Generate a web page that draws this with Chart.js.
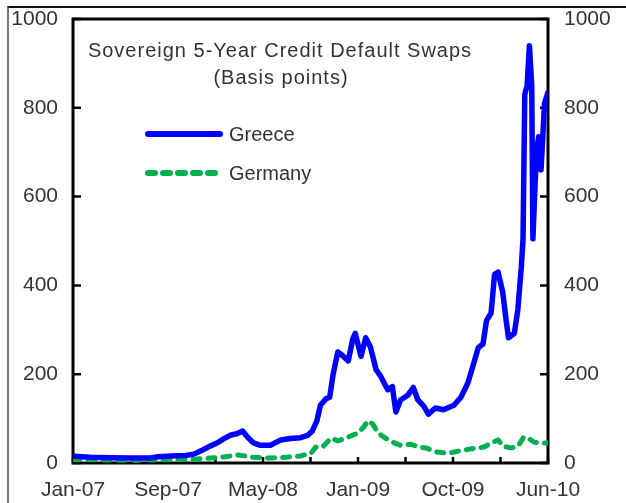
<!DOCTYPE html>
<html>
<head>
<meta charset="utf-8">
<script src="https://cdn.jsdelivr.net/npm/chart.js@4/dist/chart.umd.min.js"></script>
<style>
    body { margin: 0; background: #fff; }
    #frame { position: absolute; left: 7px; top: 6px; width: 619px; height: 497px; border-left: 2px solid #777; border-top: 2px solid #111; }
    #wrap { position: absolute; left: 0; top: 0; width: 626px; height: 503px; }
</style>
</head>
<body>
<div id="frame"></div>
<div id="wrap"><canvas id="cds-chart" width="626" height="503"></canvas></div>
<script>
// months since Jan-07
const greeceMonths = [0, 1.5, 3.2, 4.9, 6.6, 7.3, 8.4, 9.7, 10.4, 11.2, 11.8, 12.4, 13.0, 13.6, 14.1, 14.6, 15.0, 15.5, 16.1, 17.0,
    17.9, 18.7, 19.6, 20.2, 20.6, 21.0, 21.3, 21.8, 22.1, 22.4, 22.8, 23.2, 23.7, 24.1, 24.3, 24.8, 25.2, 25.6, 26.1, 26.5,
    27.1, 27.5, 27.8, 28.2, 28.8, 29.3, 29.7, 30.2, 30.6, 31.2, 31.9, 32.8, 33.4, 34.0, 34.4, 34.9, 35.3, 35.6, 36.0, 36.3,
    36.6, 37.0, 37.3, 37.5, 38.0, 38.3, 38.6, 38.75, 38.9, 39.1, 39.3, 39.5, 39.6, 39.9, 40.1, 40.3, 40.6, 40.9];
const greeceBp = [15, 13, 12, 11, 11, 14, 16, 17, 20, 30, 38, 45, 55, 63, 66, 72, 59, 46, 40, 40,
    52, 55, 57, 62, 72, 95, 130, 145, 148, 200, 250, 242, 230, 280, 292, 240, 282, 262, 210, 195,
    165, 172, 115, 142, 152, 170, 142, 128, 110, 124, 120, 130, 148, 180, 215, 260, 268, 320, 338, 425,
    430, 385, 320, 282, 292, 345, 440, 505, 830, 850, 940, 850, 505, 700, 735, 660, 810, 835];

const germanyMonths = [0, 2.3, 4.9, 7.5, 10.1, 11.8, 13.1, 14.2, 14.8, 15.5, 16.3, 17.0, 18.3, 19.6, 20.5, 20.9, 21.5, 22.2, 22.8, 23.5,
    24.1, 24.5, 25.0, 25.4, 25.8, 26.3, 26.9, 27.5, 28.2, 29.1, 29.8, 30.4, 31.2, 32.3, 33.4, 34.5, 35.4, 36.0, 36.6, 37.0,
    37.7, 38.3, 38.8, 39.2, 39.7, 40.3, 40.9];
const germanyBp = [8, 7, 6, 7, 8, 11, 14, 18, 16, 13, 12, 11, 13, 16, 22, 36, 36, 56, 50, 56,
    63, 67, 80, 95, 88, 67, 56, 47, 40, 42, 36, 34, 25, 22, 28, 33, 36, 45, 52, 38,
    34, 37, 58, 56, 47, 45, 45];

const xTickLabels = ['Jan-07', '', 'Sep-07', '', 'May-08', '', 'Jan-09', '', 'Oct-09', '', 'Jun-10'];
const xEnd = 40.9;
const yMax = 1000;
const yStep = 200;
const titleLines = ['Sovereign 5-Year Credit Default Swaps', '(Basis points)'];

const textFont = '20px "Liberation Sans", Arial, sans-serif';
const tickFont = { family: '"Liberation Sans", Arial, sans-serif', size: 21 };
const textColor = '#333';

// plot frame, inward tick marks, title and legend
const framePlugin = {
    id: 'frame',
    beforeDatasetsDraw(chart) {
        const { ctx, chartArea: a, scales } = chart;
        ctx.save();
        ctx.strokeStyle = '#000';
        ctx.lineWidth = 3;
        ctx.strokeRect(a.left, a.top, a.right - a.left, a.bottom - a.top);
        ctx.lineWidth = 2.5;
        ctx.beginPath();
        scales.x.ticks.forEach(t => {
            const px = scales.x.getPixelForValue(t.value);
            ctx.moveTo(px, a.bottom);
            ctx.lineTo(px, a.bottom - 6);
        });
        scales.y.ticks.forEach(t => {
            const py = scales.y.getPixelForValue(t.value);
            ctx.moveTo(a.left, py);
            ctx.lineTo(a.left + 8, py);
            ctx.moveTo(a.right, py);
            ctx.lineTo(a.right - 8, py);
        });
        ctx.stroke();
        ctx.restore();
    },
    afterDatasetsDraw(chart) {
        const { ctx } = chart;
        ctx.save();
        ctx.font = textFont;
        ctx.fillStyle = textColor;
        ctx.textAlign = 'center';
        ctx.textBaseline = 'alphabetic';
        ctx.letterSpacing = '1px';
        ctx.fillText(titleLines[0], 280, 57);
        ctx.fillText(titleLines[1], 281, 84);
        ctx.letterSpacing = '0px';

        ctx.textAlign = 'left';
        ctx.textBaseline = 'middle';
        chart.data.datasets.forEach((ds, i) => {
            const y = 134 + i * 39;
            ctx.save();
            ctx.strokeStyle = ds.borderColor;
            ctx.lineWidth = 6;
            ctx.lineCap = 'round';
            ctx.setLineDash(ds.borderDash || []);
            ctx.beginPath();
            ctx.moveTo(148, y);
            ctx.lineTo(220, y);
            ctx.stroke();
            ctx.restore();
            ctx.fillText(ds.label, 229, y + 1);
        });
        ctx.restore();
    }
};

const fitY = w => s => { s.width = w; s.paddingTop = 0; s.paddingBottom = 0; };

const ctx = document.getElementById('cds-chart').getContext('2d');
new Chart(ctx, {
    type: 'line',
    data: {
        datasets: [{
            label: 'Greece',
            data: greeceMonths.map((m, i) => ({ x: m, y: greeceBp[i] })),
            borderColor: '#0000ff',
            borderWidth: 5.5,
            borderJoinStyle: 'round',
            borderCapStyle: 'round',
            pointRadius: 0,
            tension: 0,
            yAxisID: 'y'
        }, {
            label: 'Germany',
            data: germanyMonths.map((m, i) => ({ x: m, y: germanyBp[i] })),
            borderColor: '#00b050',
            borderWidth: 5,
            borderDash: [7, 8],
            borderJoinStyle: 'round',
            borderCapStyle: 'round',
            pointRadius: 0,
            tension: 0,
            yAxisID: 'y'
        }]
    },
    options: {
        responsive: false,
        animation: false,
        layout: { padding: { top: 19, left: 0, right: 0, bottom: 0 } },
        plugins: { legend: { display: false }, tooltip: { enabled: false } },
        scales: {
            x: {
                type: 'linear',
                min: 0,
                max: xEnd,
                afterBuildTicks: s => { s.ticks = xTickLabels.map((_, i) => ({ value: i * xEnd / 10 })); },
                afterFit: s => { s.height = 40; s.paddingLeft = 0; s.paddingRight = 0; },
                grid: { display: false },
                border: { display: false },
                ticks: {
                    autoSkip: false,
                    maxRotation: 0,
                    padding: 7,
                    color: textColor,
                    font: tickFont,
                    callback: (v, i) => xTickLabels[i]
                }
            },
            y: {
                position: 'left',
                min: 0,
                max: yMax,
                afterFit: fitY(73),
                grid: { display: false },
                border: { display: false },
                ticks: {
                    stepSize: yStep,
                    padding: 7,
                    color: textColor,
                    font: tickFont,
                    callback: v => String(v)
                }
            },
            y2: {
                position: 'right',
                min: 0,
                max: yMax,
                afterFit: fitY(78),
                grid: { display: false },
                border: { display: false },
                ticks: {
                    stepSize: yStep,
                    padding: 8,
                    color: textColor,
                    font: tickFont,
                    callback: v => String(v)
                }
            }
        }
    },
    plugins: [framePlugin]
});
</script>
</body>
</html>
